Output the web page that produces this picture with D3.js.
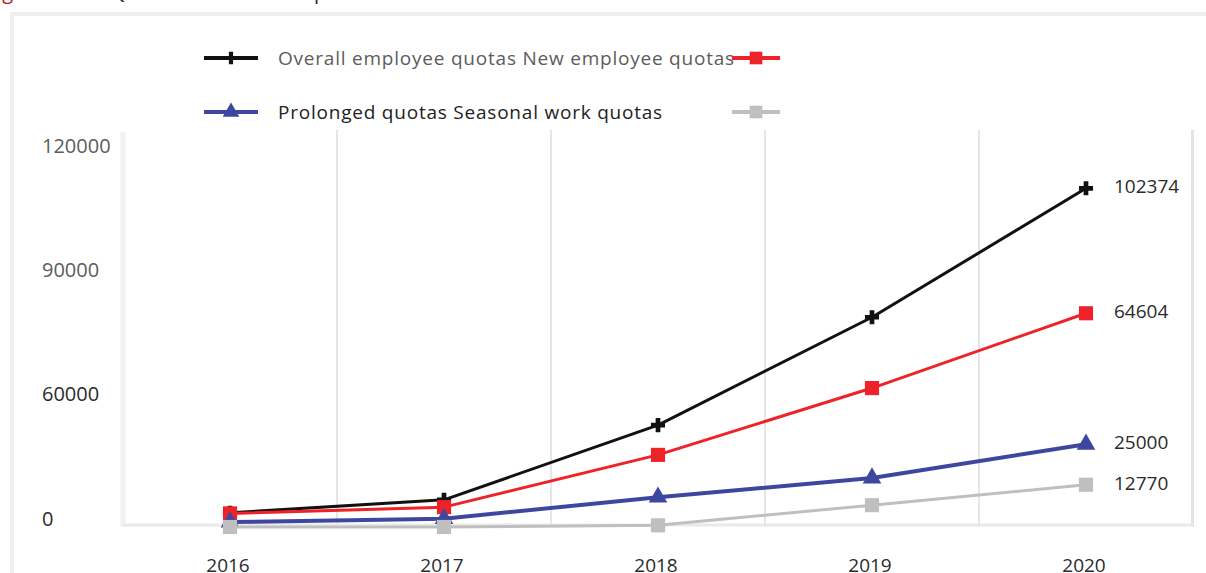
<!DOCTYPE html>
<html>
<head>
<meta charset="utf-8">
<script src="https://cdn.jsdelivr.net/npm/d3@7"></script>
<style>
  html, body { margin: 0; padding: 0; background: #fff; }
  svg { display: block; }
  text { font-family: "Open Sans", "Noto Sans", sans-serif; }
</style>
</head>
<body>
<svg id="chart" width="1206" height="573"></svg>
<script>
// ---- data ----
const years = ["2016", "2017", "2018", "2019", "2020"];
const seriesNames = ["Overall employee quotas", "New employee quotas", "Prolonged quotas", "Seasonal work quotas"];
const overallQuotas = [4300, 8200, 30800, 63400, 102374];
const newQuotas = [4100, 6000, 21800, 42000, 64604];
const prolongedQuotas = [1500, 2500, 9000, 14800, 25000];
const seasonalQuotas = [0, 0, 500, 6600, 12770];
const yTickLabels = ["120000", "90000", "60000", "0"];
const titleParts = ["Figure 1.", "Quota trends in work permits"];

// ---- styles ----
const colors = ["#111111", "#ee2229", "#3d479f", "#bfbfbf"];
const widths = [3, 3, 4, 3];
const symbols = [d3.symbolCross, d3.symbolSquare, d3.symbolTriangle, d3.symbolSquare];
const symSizes = [110, 200, 150, 200];
const seriesValues = [overallQuotas, newQuotas, prolongedQuotas, seasonalQuotas];

const svg = d3.select("#chart");
const W = 1206, H = 573;
const plot = { left: 123, right: 1193, top: 130, bottom: 527 };

// title (cut off at top in the reference, only descenders visible)
svg.append("text").attr("x", -13).attr("y", -1).attr("font-size", 20)
  .attr("fill", "#b5202e").text(titleParts[0]);
svg.append("text").attr("x", 111).attr("y", -1).attr("font-size", 20)
  .attr("fill", "#222").text(titleParts[1]);

// outer frame
svg.append("rect")
  .attr("x", 12).attr("y", 14)
  .attr("width", W + 20).attr("height", H + 20)
  .attr("fill", "none").attr("stroke", "#edf0ef").attr("stroke-width", 4);

// scales
const x = d3.scaleBand().domain(years).range([plot.left, plot.right]);
const y = d3.scaleLinear().domain([0, 120000]).range([plot.bottom, plot.top]);
const cx = d => x(d) + x.bandwidth() / 2;

// vertical gridlines at band boundaries
svg.append("g").selectAll("line")
  .data(years.slice(1))
  .join("line")
  .attr("x1", d => x(d)).attr("x2", d => x(d))
  .attr("y1", plot.top).attr("y2", plot.bottom)
  .attr("stroke", "#e6e6e6").attr("stroke-width", 2);

// plot borders
svg.append("line").attr("x1", plot.left).attr("x2", plot.left)
  .attr("y1", plot.top + 2).attr("y2", plot.bottom)
  .attr("stroke", "#f0f1f0").attr("stroke-width", 5);
svg.append("line").attr("x1", plot.right - 0.5).attr("x2", plot.right - 0.5)
  .attr("y1", plot.top).attr("y2", plot.bottom)
  .attr("stroke", "#e4e4e4").attr("stroke-width", 3);
svg.append("line").attr("x1", plot.left).attr("x2", plot.right)
  .attr("y1", plot.bottom - 2).attr("y2", plot.bottom - 2)
  .attr("stroke", "#e9eaea").attr("stroke-width", 3);

// y tick labels (evenly spaced as in the reference)
const yLab = d3.scalePoint().domain(yTickLabels).range([145, 518]);
svg.append("g").selectAll("text")
  .data(yTickLabels)
  .join("text")
  .attr("x", 42).attr("y", d => yLab(d))
  .attr("dominant-baseline", "central")
  .attr("font-size", 20)
  .attr("fill", (d, i) => i < 2 ? "#5c5c5c" : "#2b2b2b")
  .text(d => d);

// x tick labels
svg.append("g").selectAll("text")
  .data(years)
  .join("text")
  .attr("x", d => cx(d) - 2).attr("y", 572)
  .attr("text-anchor", "middle")
  .attr("font-size", 19)
  .attr("fill", "#2b2b2b")
  .text(d => d);

// lines + markers
const line = d3.line().x((d, i) => cx(years[i])).y(d => y(d));
seriesValues.forEach((vals, s) => {
  const g = svg.append("g");
  g.append("path").datum(vals)
    .attr("d", line).attr("fill", "none")
    .attr("stroke", colors[s]).attr("stroke-width", widths[s])
    .attr("stroke-linejoin", "round");
  g.selectAll("path.m").data(vals).join("path")
    .attr("class", "m")
    .attr("transform", (d, i) => `translate(${cx(years[i])},${y(d)})`)
    .attr("d", d3.symbol().type(symbols[s]).size(symSizes[s]))
    .attr("fill", colors[s]);
});

// end value labels
svg.append("g").selectAll("text")
  .data(seriesValues)
  .join("text")
  .attr("x", 1114)
  .attr("y", d => y(d[d.length - 1]) - 2)
  .attr("dominant-baseline", "central")
  .attr("font-size", 19)
  .attr("fill", "#2b2b2b")
  .text(d => d[d.length - 1]);

// legend
const legendRows = [
  { y: 58, text: seriesNames[0] + " " + seriesNames[1], left: 0, right: 1, color: "#5c5c5c" },
  { y: 112, text: seriesNames[2] + " " + seriesNames[3], left: 2, right: 3, color: "#222" }
];
const legend = svg.append("g");
legendRows.forEach(r => {
  legend.append("text")
    .attr("x", 278).attr("y", r.y)
    .attr("dominant-baseline", "central")
    .attr("font-size", 19)
    .attr("letter-spacing", 0.78)
    .attr("fill", r.color)
    .text(r.text);
  [[r.left, 204, 258, 231], [r.right, 732, 780, 756]].forEach(([s, x1, x2, mx]) => {
    legend.append("line").attr("x1", x1).attr("x2", x2)
      .attr("y1", r.y).attr("y2", r.y)
      .attr("stroke", colors[s]).attr("stroke-width", 4);
    legend.append("path")
      .attr("transform", `translate(${mx},${r.y})`)
      .attr("d", d3.symbol().type(symbols[s]).size(symSizes[s] * 0.8))
      .attr("fill", colors[s]);
  });
});
</script>
</body>
</html>
